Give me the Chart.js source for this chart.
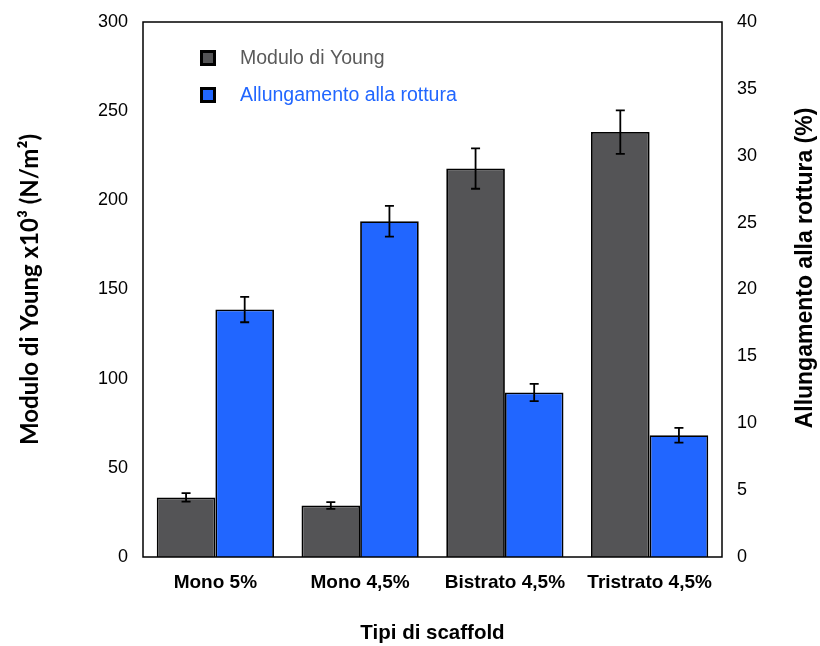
<!DOCTYPE html>
<html>
<head>
<meta charset="utf-8">
<script src="https://cdn.jsdelivr.net/npm/chart.js@4.4.1/dist/chart.umd.min.js"></script>
<style>
  html, body { margin: 0; padding: 0; background: #ffffff; }
  #wrap { width: 820px; height: 646px; }
</style>
</head>
<body>
<div id="wrap"><canvas id="c" width="820" height="646"></canvas></div>
<script>
// Scaffold types and measured properties
const categories = ['Mono 5%', 'Mono 4,5%', 'Bistrato 4,5%', 'Tristrato 4,5%'];
const youngModulus = [33.4, 28.9, 217.8, 238.3];        // x10^3 N/m2
const youngModulusErr = [2.4, 1.9, 11.3, 12.2];
const elongation = [18.5, 25.1, 12.3, 9.1];              // %
const elongationErr = [0.95, 1.15, 0.65, 0.55];
const leftTickValues = [0, 50, 100, 150, 200, 250, 300];
const rightTickValues = [0, 5, 10, 15, 20, 25, 30, 35, 40];

const GRAY = '#545456';
const BLUE = '#2166FF';

// Frame around the plot area
const framePlugin = {
  id: 'frame',
  afterDatasetsDraw(chart) {
    const { ctx, chartArea: a } = chart;
    ctx.save();
    ctx.strokeStyle = '#000';
    ctx.lineWidth = 1.5;
    ctx.strokeRect(a.left, a.top, a.right - a.left, a.bottom - a.top);
    ctx.restore();
  }
};

// Error bars drawn on each bar from the error arrays
const errorBarPlugin = {
  id: 'errorBars',
  afterDatasetsDraw(chart) {
    const { ctx } = chart;
    ctx.save();
    ctx.strokeStyle = '#000';
    ctx.lineWidth = 1.8;
    chart.data.datasets.forEach((ds, di) => {
      const meta = chart.getDatasetMeta(di);
      const scale = chart.scales[ds.yAxisID];
      meta.data.forEach((bar, i) => {
        const v = ds.data[i], e = ds.errors[i];
        const yTop = scale.getPixelForValue(v + e);
        const yBot = scale.getPixelForValue(v - e);
        const x = bar.x, cap = 4.5;
        ctx.beginPath();
        ctx.moveTo(x, yTop); ctx.lineTo(x, yBot);
        ctx.moveTo(x - cap, yTop); ctx.lineTo(x + cap, yTop);
        ctx.moveTo(x - cap, yBot); ctx.lineTo(x + cap, yBot);
        ctx.stroke();
      });
    });
    ctx.restore();
  }
};

// Legend inside the plot, coloured text per series
const insideLegendPlugin = {
  id: 'insideLegend',
  afterDraw(chart) {
    const { ctx } = chart;
    const x0 = 200, rows = [58, 95];
    ctx.save();
    chart.data.datasets.forEach((ds, i) => {
      const y = rows[i];
      ctx.fillStyle = '#000';
      ctx.fillRect(x0, y - 8, 16, 16);
      ctx.fillStyle = ds.backgroundColor;
      ctx.fillRect(x0 + 3, y - 5, 10, 10);
      ctx.font = '19.5px "Liberation Sans", Arial, sans-serif';
      ctx.textBaseline = 'middle';
      ctx.textAlign = 'left';
      ctx.fillStyle = ds.legendTextColor;
      ctx.fillText(ds.label, 240, y + 1);
    });
    ctx.restore();
  }
};

// Right axis title reading bottom to top
const rightTitlePlugin = {
  id: 'rightTitle',
  afterDraw(chart) {
    const { ctx } = chart;
    const s = chart.scales.y1;
    ctx.save();
    ctx.translate(806, 268);
    ctx.rotate(-Math.PI / 2);
    ctx.font = 'bold 23px "Liberation Sans", Arial, sans-serif';
    ctx.fillStyle = '#000';
    ctx.textAlign = 'center';
    ctx.textBaseline = 'middle';
    ctx.fillText(s.options.titleText, 0, 0);
    ctx.restore();
  }
};

// Vertical axes: fixed width, no extra room for half-height end labels
function fitVertical(width) {
  return (s) => {
    s.width = width;
    s.paddingTop = 0;
    s.paddingBottom = 0;
  };
}

new Chart(document.getElementById('c'), {
  type: 'bar',
  data: {
    labels: categories,
    datasets: [
      {
        label: 'Modulo di Young',
        data: youngModulus,
        errors: youngModulusErr,
        yAxisID: 'y',
        backgroundColor: GRAY,
        legendTextColor: '#5a5a5a',
        borderColor: '#000',
        borderWidth: 1.8,
        categoryPercentage: 0.81,
        barPercentage: 1.0
      },
      {
        label: 'Allungamento alla rottura',
        data: elongation,
        errors: elongationErr,
        yAxisID: 'y1',
        backgroundColor: BLUE,
        legendTextColor: BLUE,
        borderColor: '#000',
        borderWidth: 1.8,
        categoryPercentage: 0.81,
        barPercentage: 1.0
      }
    ]
  },
  options: {
    responsive: false,
    animation: false,
    devicePixelRatio: 1,
    layout: { padding: { top: 22, left: 0, right: 0, bottom: 0 } },
    plugins: {
      legend: { display: false },
      tooltip: { enabled: false }
    },
    scales: {
      x: {
        grid: { display: false, drawTicks: false },
        border: { display: false },
        ticks: {
          color: '#000',
          padding: 14,
          font: { family: '"Liberation Sans", Arial, sans-serif', size: 19, weight: 'bold' }
        },
        title: {
          display: true,
          text: 'Tipi di scaffold',
          color: '#000',
          font: { family: '"Liberation Sans", Arial, sans-serif', size: 20.5, weight: 'bold' },
          padding: { top: 0, bottom: 0 }
        },
        afterFit(s) { s.height = 89; }
      },
      y: {
        position: 'left',
        min: 0,
        max: 300,
        afterBuildTicks(s) { s.ticks = leftTickValues.map(v => ({ value: v })); },
        grid: { display: false, drawTicks: false },
        border: { display: false },
        ticks: {
          color: '#000',
          padding: 15,
          font: { family: '"Liberation Sans", Arial, sans-serif', size: 18 }
        },
        title: {
          display: true,
          text: 'Modulo di Young x10³ (N/m²)',
          color: '#000',
          font: { family: 'Lato, "Open Sans", sans-serif', size: 24, weight: 'bold' },
          padding: { top: 16, bottom: 0 }
        },
        afterFit: fitVertical(143)
      },
      y1: {
        position: 'right',
        min: 0,
        max: 40,
        titleText: 'Allungamento alla rottura (%)',
        afterBuildTicks(s) { s.ticks = rightTickValues.map(v => ({ value: v })); },
        grid: { display: false, drawTicks: false },
        border: { display: false },
        ticks: {
          color: '#000',
          padding: 15,
          font: { family: '"Liberation Sans", Arial, sans-serif', size: 18 }
        },
        afterFit: fitVertical(98)
      }
    }
  },
  plugins: [framePlugin, errorBarPlugin, insideLegendPlugin, rightTitlePlugin]
});
</script>
</body>
</html>
